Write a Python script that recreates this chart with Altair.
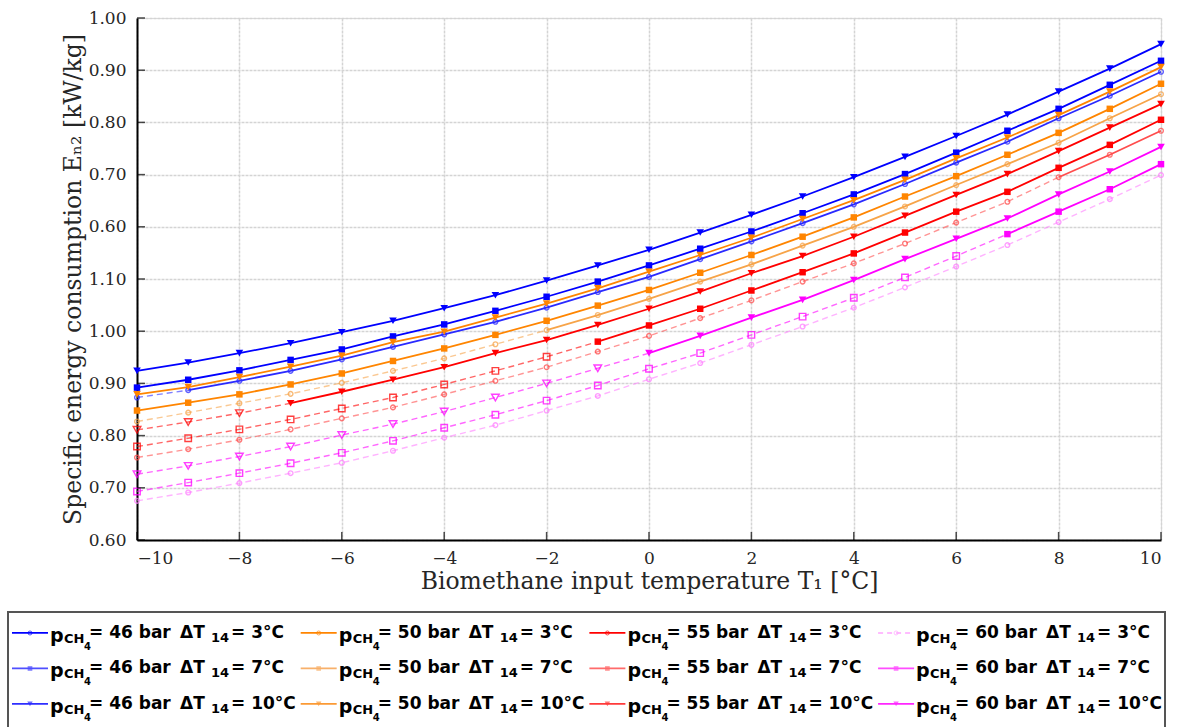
import altair as alt
import pandas as pd

# ---------------- data ----------------
T = [-10, -9, -8, -7, -6, -5, -4, -3, -2, -1, 0, 1, 2, 3, 4, 5, 6, 7, 8, 9, 10]

E_46_3 = [0.873, 0.887, 0.905, 0.924, 0.946, 0.970, 0.994, 1.018, 1.045, 1.075, 1.104,
          1.138, 1.172, 1.207, 1.243, 1.282, 1.323, 1.363, 1.408, 1.451, 1.497]
E_46_7 = [0.892, 0.907, 0.925, 0.945, 0.965, 0.990, 1.013, 1.039, 1.066, 1.095, 1.126,
          1.158, 1.191, 1.226, 1.262, 1.301, 1.342, 1.384, 1.426, 1.472, 1.518]
E_46_10 = [0.924, 0.940, 0.958, 0.977, 0.998, 1.020, 1.044, 1.069, 1.097, 1.126, 1.156,
           1.189, 1.223, 1.258, 1.295, 1.334, 1.374, 1.415, 1.459, 1.503, 1.550]
E_50_3 = [0.827, 0.844, 0.862, 0.880, 0.901, 0.924, 0.948, 0.975, 1.002, 1.031, 1.062,
          1.095, 1.128, 1.164, 1.200, 1.239, 1.280, 1.320, 1.361, 1.408, 1.454]
E_50_7 = [0.848, 0.863, 0.879, 0.898, 0.919, 0.943, 0.967, 0.993, 1.020, 1.049, 1.079,
          1.112, 1.146, 1.181, 1.218, 1.258, 1.297, 1.338, 1.380, 1.426, 1.474]
E_50_10 = [0.879, 0.893, 0.912, 0.932, 0.953, 0.979, 0.999, 1.026, 1.053, 1.082, 1.114,
           1.146, 1.179, 1.215, 1.251, 1.290, 1.331, 1.371, 1.414, 1.459, 1.506]
E_55_3 = [0.758, 0.774, 0.792, 0.812, 0.833, 0.854, 0.879, 0.905, 0.931, 0.961, 0.991,
          1.025, 1.059, 1.095, 1.130, 1.168, 1.208, 1.248, 1.295, 1.338, 1.384]
E_55_7 = [0.779, 0.795, 0.812, 0.831, 0.852, 0.873, 0.898, 0.924, 0.951, 0.980, 1.011,
          1.043, 1.078, 1.113, 1.149, 1.189, 1.229, 1.267, 1.313, 1.357, 1.405]
E_55_10 = [0.811, 0.826, 0.843, 0.862, 0.884, 0.907, 0.931, 0.958, 0.983, 1.012, 1.043,
           1.076, 1.111, 1.144, 1.181, 1.221, 1.261, 1.301, 1.345, 1.390, 1.435]
E_60_3 = [0.675, 0.691, 0.709, 0.728, 0.748, 0.771, 0.796, 0.820, 0.848, 0.876, 0.908,
          0.939, 0.974, 1.009, 1.045, 1.084, 1.124, 1.165, 1.209, 1.253, 1.299]
E_60_7 = [0.693, 0.710, 0.728, 0.747, 0.767, 0.790, 0.815, 0.840, 0.867, 0.896, 0.928,
          0.958, 0.993, 1.028, 1.064, 1.103, 1.144, 1.186, 1.229, 1.272, 1.320]
E_60_10 = [0.726, 0.742, 0.760, 0.779, 0.801, 0.822, 0.846, 0.873, 0.900, 0.929, 0.958,
           0.991, 1.026, 1.060, 1.098, 1.138, 1.177, 1.216, 1.262, 1.306, 1.353]

PRESSURES = [46, 50, 55, 60]
DELTA_T = [3, 7, 10]

# first temperature from which each curve is drawn solid (None = dashed everywhere)
SOLID_FROM = {
    (46, 3): -9, (46, 7): -10, (46, 10): -10,
    (50, 3): -2, (50, 7): -10, (50, 10): -10,
    (55, 3): 8, (55, 7): -1, (55, 10): -7,
    (60, 3): None, (60, 7): 7, (60, 10): 0,
}

VALUES = {
    (46, 3): E_46_3, (46, 7): E_46_7, (46, 10): E_46_10,
    (50, 3): E_50_3, (50, 7): E_50_7, (50, 10): E_50_10,
    (55, 3): E_55_3, (55, 7): E_55_7, (55, 10): E_55_10,
    (60, 3): E_60_3, (60, 7): E_60_7, (60, 10): E_60_10,
}

X_TICKS = [-10, -8, -6, -4, -2, 0, 2, 4, 6, 8, 10]
Y_TICKS = [0.6, 0.7, 0.8, 0.9, 1.0, 1.1, 1.2, 1.3, 1.4, 1.5, 1.6]

# ---------------- styles ----------------
COLORS = {
    (46, 3): "#2a2aff", (46, 7): "#0000ff", (46, 10): "#0000ff",
    (50, 3): "#f7a449", (50, 7): "#ff8500", (50, 10): "#ff8500",
    (55, 3): "#ff4d4d", (55, 7): "#ff0000", (55, 10): "#ff0000",
    (60, 3): "#ff80ff", (60, 7): "#ff00ff", (60, 10): "#ff00ff",
}
LEGEND_COLORS = {
    (46, 3): "#0000ff", (46, 7): "#4f4fff", (46, 10): "#2e2eff",
    (50, 3): "#ff8500", (50, 7): "#f8b06a", (50, 10): "#fb9a35",
    (55, 3): "#ff0000", (55, 7): "#ff6b6b", (55, 10): "#ff3a3a",
    (60, 3): "#ffa6ff", (60, 7): "#ff4dff", (60, 10): "#ff26ff",
}
SHAPES = {3: "circle", 7: "square", 10: "triangle-down"}
SIZES = {3: 22, 7: 42, 10: 58}
LEG_SIZES = {3: 16, 7: 22, 10: 30}

# ---------------- tables ----------------
line_rows, point_rows = [], []
for (p, dt), vals in VALUES.items():
    sf = SOLID_FROM[(p, dt)]
    key = f"{p}_{dt}"
    for t, v in zip(T, vals):
        solid = sf is not None and t >= sf
        if sf is None or t <= sf:
            line_rows.append(dict(key=key + "_d", T=t, E=v, seg="dash", color=COLORS[(p, dt)]))
        if solid:
            line_rows.append(dict(key=key + "_s", T=t, E=v, seg="solid", color=COLORS[(p, dt)]))
        point_rows.append(dict(T=t, E=v, color=COLORS[(p, dt)], shape=SHAPES[dt], size=SIZES[dt],
                               filled=bool(solid and dt != 3), seg="solid" if solid else "dash"))
lines_df = pd.DataFrame(line_rows)
points_df = pd.DataFrame(point_rows)

leg_rows = []
for ci, p in enumerate(PRESSURES):
    for ri, dt in enumerate(DELTA_T):
        leg_rows.append(dict(col=ci, row=ri, color=LEGEND_COLORS[(p, dt)], shape=SHAPES[dt],
                             size=LEG_SIZES[dt], filled=dt != 3,
                             dashed=(p == 60 and dt == 3),
                             ptxt=f"= {p} bar", ttxt=f"= {dt}\u00b0C"))
leg_df = pd.DataFrame(leg_rows)
xt_df = pd.DataFrame({"T": X_TICKS, "E": [Y_TICKS[0]] * len(X_TICKS)})
yt_df = pd.DataFrame({"T": [X_TICKS[0]] * len(Y_TICKS), "E": Y_TICKS})

SERIF = "DejaVu Serif"
SANS = "DejaVu Sans"

x_axis = alt.Axis(values=X_TICKS, format="d", title="Biomethane input temperature T\u2081 [\u00b0C]",
                  labelFont=SERIF, labelFontSize=17, labelColor="#262626", labelPadding=10,
                  titleFont=SERIF, titleFontSize=23.5, titleFontWeight="normal", titleColor="#262626",
                  titlePadding=3, ticks=False, domainColor="#000000", domainWidth=2,
                  grid=True, gridColor="#d4d4d4", gridWidth=1.5, gridDash=[3, 1])
y_axis = alt.Axis(values=Y_TICKS, title="Specific energy consumption E\u2099\u2082 [kW/kg]",
                  labelExpr="datum.value > 1.15 ? format(datum.value - 0.6, '.2f') : format(datum.value, '.2f')",
                  labelFont=SERIF, labelFontSize=17, labelColor="#262626", labelPadding=11,
                  titleFont=SERIF, titleFontSize=23.5, titleFontWeight="normal", titleColor="#262626",
                  titlePadding=3, ticks=False, domainColor="#000000", domainWidth=2,
                  grid=True, gridColor="#d4d4d4", gridWidth=1.5, gridDash=[3, 1])

X = alt.X("T:Q", scale=alt.Scale(domain=[-10, 10], nice=False), axis=x_axis)
Y = alt.Y("E:Q", scale=alt.Scale(domain=[0.6, 1.6], nice=False, zero=False), axis=y_axis)
C = alt.Color("color:N", scale=None)

dash_lines = alt.Chart(lines_df).transform_filter("datum.seg == 'dash'").mark_line(
    strokeWidth=1.4, strokeDash=[6, 4], opacity=0.6).encode(x=X, y=Y, color=C, detail="key:N", order="T:Q")
solid_lines = alt.Chart(lines_df).transform_filter("datum.seg == 'solid'").mark_line(
    strokeWidth=1.8).encode(x=X, y=Y, color=C, detail="key:N", order="T:Q")
hollow_pts = alt.Chart(points_df).transform_filter("!datum.filled").mark_point(
    filled=False, strokeWidth=1.4, opacity=0.75).encode(
    x=X, y=Y, color=C, shape=alt.Shape("shape:N", scale=None), size=alt.Size("size:Q", scale=None))
filled_pts = alt.Chart(points_df).transform_filter("datum.filled").mark_point(
    filled=True, opacity=1).encode(
    x=X, y=Y, color=C, shape=alt.Shape("shape:N", scale=None), size=alt.Size("size:Q", scale=None))
x_ticks = alt.Chart(xt_df).mark_tick(orient="vertical", size=8, thickness=1.5, yOffset=-4,
                                     color="#000000").encode(x=X, y=Y)
y_ticks = alt.Chart(yt_df).mark_tick(orient="horizontal", size=8, thickness=1.5, xOffset=4,
                                     color="#000000").encode(x=X, y=Y)

main = alt.layer(dash_lines, solid_lines, hollow_pts, filled_pts, x_ticks, y_ticks)

# ---------------- custom legend (below the plot) ----------------
LX = alt.X("col:Q", scale=alt.Scale(domain=[0.433, 3.980], nice=False, zero=False), axis=None)
LY = alt.Y("row:Q", scale=alt.Scale(domain=[-17.33, -2.62], nice=False, zero=False, reverse=True), axis=None)
LX2 = alt.X2("col")
base = alt.Chart(leg_df)

leg_box = alt.Chart(leg_df).mark_rect(fillOpacity=0, stroke="#555555", strokeWidth=1.5).encode(
    x=alt.value(-129), x2=alt.value(1028), y=alt.value(594), y2=alt.value(730))
leg_solid = base.transform_filter("!datum.dashed").mark_rule(strokeWidth=1.8, x2Offset=36).encode(
    x=LX, x2=LX2, y=LY, color=C)
leg_dash = base.transform_filter("datum.dashed").mark_rule(strokeWidth=1.6, x2Offset=36,
                                                            strokeDash=[5, 4]).encode(
    x=LX, x2=LX2, y=LY, color=C)
leg_hollow = base.transform_filter("!datum.filled").mark_point(filled=False, strokeWidth=1, xOffset=18).encode(
    x=LX, y=LY, color=C, shape=alt.Shape("shape:N", scale=None), size=alt.Size("size:Q", scale=None))
leg_filled = base.transform_filter("datum.filled").mark_point(filled=True, xOffset=18).encode(
    x=LX, y=LY, color=C, shape=alt.Shape("shape:N", scale=None), size=alt.Size("size:Q", scale=None))


def txt(text, dx, dy, size, field=False):
    m = base.mark_text(align="left", baseline="middle", dx=dx, dy=dy, font=SANS, fontWeight="bold",
                       fontSize=size, color="#000000")
    enc = dict(x=LX, y=LY)
    if field:
        enc["text"] = alt.Text(text + ":N")
    else:
        enc["text"] = alt.value(text)
    return m.encode(**enc)


leg_texts = [
    txt("p", 38, 3, 19),
    txt("CH", 52, 6, 13),
    txt("4", 72, 14, 10),
    txt("ptxt", 77, 0, 17, field=True),
    txt("\u0394T", 168, 0, 17),
    txt("14", 199, 5, 13),
    txt("ttxt", 219, 0, 17, field=True),
]

legend = alt.layer(leg_box, leg_solid, leg_dash, leg_hollow, leg_filled, *leg_texts)

chart = alt.layer(main, legend).resolve_scale(x="independent", y="independent").properties(
    width=1024, height=522,
    autosize=alt.AutoSizeParams(type="none"),
    padding={"left": 137, "top": 18, "right": 23, "bottom": 187},
).configure_view(stroke=None).configure(background="white")

chart.save("out.html", embed_options={"renderer": "svg", "actions": False})
